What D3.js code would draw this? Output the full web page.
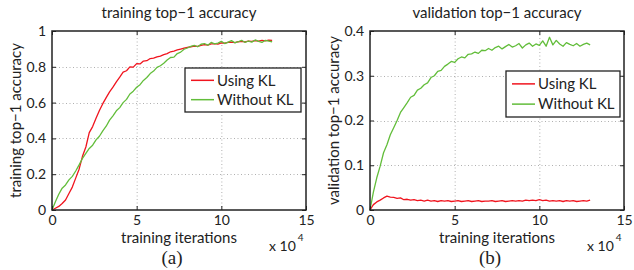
<!DOCTYPE html>
<html>
<head>
<meta charset="utf-8">
<script src="https://cdn.jsdelivr.net/npm/d3@7"></script>
<style>
  body { margin: 0; background: #fff; }
  svg text { font-family: "Lato", "Open Sans", sans-serif; fill: #222; }
  .grid line { stroke: #b0b0b0; stroke-dasharray: 1,2.5; }
</style>
</head>
<body>
<svg id="fig" width="634" height="270"></svg>
<script>
// training iterations, in thousands (axis is shown in units of 10^4)
var iters = [0,2,4,6,8,10,12,14,16,18,20,22,24,26,28,30,32,34,36,38,40,42,44,46,48,50,52,54,56,58,60,62,64,66,68,70,72,74,76,78,80,82,84,86,88,90,92,94,96,98,100,102,104,106,108,110,112,114,116,118,120,122,124,126,128,130];

var seriesNames = ["Using KL", "Without KL"];
var seriesColors = ["#f0141e", "#62bd3a"];

var trainUsingKL = [0.000,0.010,0.020,0.036,0.056,0.092,0.128,0.178,0.228,0.300,0.352,0.432,0.466,0.512,0.556,0.594,0.628,0.660,0.686,0.716,0.742,0.770,0.778,0.800,0.798,0.818,0.816,0.832,0.834,0.846,0.848,0.855,0.860,0.868,0.874,0.884,0.888,0.894,0.899,0.904,0.908,0.912,0.916,0.914,0.920,0.924,0.921,0.928,0.930,0.927,0.934,0.932,0.936,0.938,0.935,0.940,0.942,0.939,0.944,0.942,0.946,0.944,0.948,0.945,0.949,0.948];
var trainWithoutKL = [0.000,0.046,0.088,0.122,0.140,0.168,0.188,0.218,0.252,0.288,0.316,0.344,0.362,0.392,0.412,0.442,0.468,0.502,0.526,0.554,0.572,0.600,0.618,0.648,0.664,0.686,0.700,0.724,0.740,0.762,0.776,0.797,0.806,0.820,0.838,0.852,0.854,0.874,0.882,0.898,0.905,0.914,0.920,0.912,0.926,0.930,0.921,0.936,0.928,0.932,0.942,0.930,0.938,0.946,0.934,0.940,0.948,0.936,0.944,0.938,0.950,0.942,0.936,0.948,0.944,0.940];

var valUsingKL = [0.000,0.012,0.018,0.022,0.027,0.031,0.029,0.028,0.026,0.027,0.023,0.024,0.022,0.023,0.021,0.022,0.020,0.022,0.020,0.021,0.019,0.021,0.020,0.021,0.019,0.020,0.021,0.019,0.020,0.021,0.019,0.020,0.021,0.019,0.020,0.020,0.021,0.019,0.020,0.021,0.019,0.020,0.021,0.020,0.021,0.020,0.022,0.021,0.022,0.021,0.023,0.021,0.022,0.020,0.021,0.020,0.021,0.019,0.021,0.020,0.021,0.019,0.020,0.021,0.020,0.022];
var valWithoutKL = [0.000,0.040,0.072,0.098,0.128,0.146,0.168,0.184,0.200,0.218,0.229,0.240,0.252,0.256,0.268,0.272,0.280,0.284,0.296,0.300,0.310,0.312,0.321,0.326,0.332,0.330,0.338,0.342,0.340,0.348,0.349,0.353,0.350,0.357,0.356,0.361,0.357,0.363,0.366,0.360,0.365,0.370,0.364,0.367,0.372,0.362,0.369,0.373,0.366,0.371,0.368,0.378,0.366,0.386,0.369,0.379,0.371,0.366,0.374,0.370,0.367,0.372,0.366,0.370,0.373,0.369];

var xTicks = [0, 5, 10, 15];
var trainYTicks = [0, 0.2, 0.4, 0.6, 0.8, 1];
var valYTicks = [0, 0.1, 0.2, 0.3, 0.4];

var svg = d3.select("#fig");

drawPanel({
    left: 52, right: 306, top: 31, bottom: 210,
    yMax: 1, yTicks: trainYTicks, yFormat: function (d) { return d === 1 || d === 0 ? d : d3.format(".1f")(d); },
    title: "training top\u22121 accuracy",
    yLabel: "training top\u22121 accuracy",
    caption: "(a)",
    series: [trainUsingKL, trainWithoutKL],
    legend: { x: 185, y: 68, w: 116, h: 44 }
});

drawPanel({
    left: 370, right: 624, top: 31, bottom: 210,
    yMax: 0.4, yTicks: valYTicks, yFormat: function (d) { return d === 0 ? d : d3.format(".1f")(d); },
    title: "validation top\u22121 accuracy",
    yLabel: "validation top\u22121 accuracy",
    caption: "(b)",
    series: [valUsingKL, valWithoutKL],
    legend: { x: 506, y: 71, w: 114, h: 46 }
});

function drawPanel (options) {
    var g = svg.append("g");

    var x = d3.scaleLinear().domain([0, 15]).range([options.left, options.right]);
    var y = d3.scaleLinear().domain([0, options.yMax]).range([options.bottom, options.top]);

    // dotted grid
    var grid = g.append("g").attr("class", "grid");
    grid.selectAll("line.gx")
        .data(xTicks.slice(1, -1))
        .enter().append("line")
        .attr("x1", function (d) { return x(d) + 0.5; })
        .attr("x2", function (d) { return x(d) + 0.5; })
        .attr("y1", options.top).attr("y2", options.bottom);
    grid.selectAll("line.gy")
        .data(options.yTicks.slice(1, -1))
        .enter().append("line")
        .attr("x1", options.left).attr("x2", options.right)
        .attr("y1", function (d) { return Math.round(y(d)) + 0.5; })
        .attr("y2", function (d) { return Math.round(y(d)) + 0.5; });

    // curves
    var line = d3.line()
        .x(function (d, i) { return x(iters[i] / 10); })
        .y(function (d) { return y(d); });

    options.series.forEach(function (s, k) {
        g.append("path")
            .datum(s)
            .attr("fill", "none")
            .attr("stroke", seriesColors[k])
            .attr("stroke-width", 1.3)
            .attr("stroke-linejoin", "round")
            .attr("d", line);
    });

    // axes (MATLAB style: ticks inward, box all round)
    var xAxis = d3.axisBottom(x).tickValues(xTicks).tickSizeInner(-4).tickSizeOuter(0).tickPadding(5);
    var yAxis = d3.axisLeft(y).tickValues(options.yTicks).tickFormat(options.yFormat).tickSizeInner(-4).tickSizeOuter(0).tickPadding(6);

    var gx = g.append("g").attr("transform", "translate(0," + options.bottom + ")").call(xAxis);
    var gy = g.append("g").attr("transform", "translate(" + options.left + ",0)").call(yAxis);
    g.append("g").attr("transform", "translate(0," + options.top + ")")
        .call(d3.axisTop(x).tickValues(xTicks).tickSizeInner(-4).tickSizeOuter(0).tickFormat(""));
    g.append("g").attr("transform", "translate(" + options.right + ",0)")
        .call(d3.axisRight(y).tickValues(options.yTicks).tickSizeInner(-4).tickSizeOuter(0).tickFormat(""));

    g.selectAll(".domain").remove();
    g.selectAll(".tick line").attr("stroke", "#222");
    [gx, gy].forEach(function (a) {
        a.selectAll("text").style("font-size", "14px").style("font-family", "Lato, sans-serif").attr("fill", "#222");
    });

    g.append("rect")
        .attr("x", options.left).attr("y", options.top)
        .attr("width", options.right - options.left)
        .attr("height", options.bottom - options.top)
        .attr("fill", "none").attr("stroke", "#222").attr("stroke-width", 1.5);

    // texts
    var mid = (options.left + options.right) / 2;
    g.append("text")
        .attr("x", mid).attr("y", 18)
        .attr("text-anchor", "middle")
        .style("font-size", "15px")
        .text(options.title);

    g.append("text")
        .attr("transform", "translate(" + (options.left - 31) + "," + ((options.top + options.bottom) / 2) + ") rotate(-90)")
        .attr("text-anchor", "middle")
        .style("font-size", "15px")
        .text(options.yLabel);

    g.append("text")
        .attr("x", mid).attr("y", 243)
        .attr("text-anchor", "middle")
        .style("font-size", "15px")
        .text("training iterations");

    var mult = g.append("text")
        .attr("x", options.right - 37).attr("y", 251)
        .style("font-size", "14px");
    mult.append("tspan").text("x 10");
    mult.append("tspan").attr("dx", 2).attr("dy", -10).style("font-size", "10px").text("4");

    g.append("text")
        .attr("x", mid - 7).attr("y", 264)
        .attr("text-anchor", "middle")
        .style("font-family", "'Liberation Serif', serif")
        .style("font-size", "19px")
        .text(options.caption);

    // legend
    var L = options.legend;
    var lg = g.append("g").attr("transform", "translate(" + L.x + "," + L.y + ")");
    lg.append("rect")
        .attr("width", L.w).attr("height", L.h)
        .attr("fill", "#fff").attr("stroke", "#222").attr("stroke-width", 1.3);
    var rows = lg.selectAll("g.row")
        .data(seriesNames)
        .enter().append("g")
        .attr("transform", function (d, i) { return "translate(0," + (L.h * (0.28 + i * 0.44)) + ")"; });
    rows.append("line")
        .attr("x1", 6).attr("x2", 29)
        .attr("stroke", function (d, i) { return seriesColors[i]; })
        .attr("stroke-width", 1.5);
    rows.append("text")
        .attr("x", 32).attr("dy", "0.35em")
        .style("font-size", "15px")
        .text(function (d) { return d; });
}
</script>
</body>
</html>
